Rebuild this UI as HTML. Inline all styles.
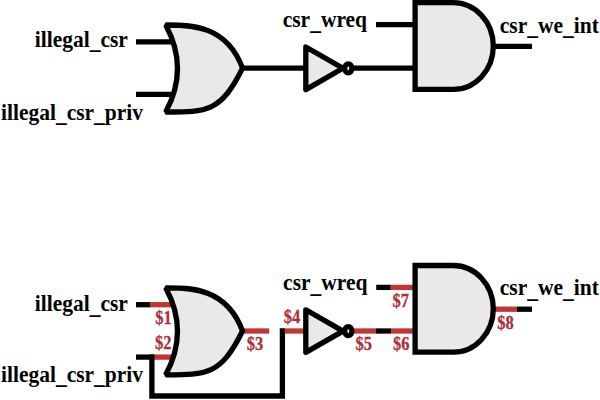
<!DOCTYPE html>
<html><head><meta charset="utf-8"><style>
html,body{margin:0;padding:0;background:#fff;}
svg{display:block;}
text{font-family:"Liberation Serif",serif;font-weight:bold;}
</style></head><body>
<svg width="600" height="400" viewBox="0 0 600 400">
<rect width="600" height="400" fill="#fff"/>
<line x1="136" y1="41.9" x2="176" y2="41.9" stroke="#000" stroke-width="5.3"/><line x1="136" y1="94.3" x2="176" y2="94.3" stroke="#000" stroke-width="5.3"/><line x1="238" y1="68.2" x2="310" y2="68.2" stroke="#000" stroke-width="5.3"/><line x1="350" y1="68.2" x2="418" y2="68.2" stroke="#000" stroke-width="5.3"/><line x1="376" y1="24.6" x2="418" y2="24.6" stroke="#000" stroke-width="5.3"/><line x1="490" y1="46.4" x2="532" y2="46.4" stroke="#000" stroke-width="5.3"/><path d="M165.7,25.0 C188.3,25.0 226.4,23.9 242.5,68.2 C221.0,112.1 206.8,112.0 165.7,112.0 Q189.29999999999998,68.5 165.7,25.0 Z" fill="#e9e9e9" stroke="#000" stroke-width="5.3" stroke-linejoin="bevel"/><path d="M305.8,47.0 L343,68.3 L305.8,89.6 Z" fill="#e9e9e9" stroke="#000" stroke-width="5.3" stroke-linejoin="round"/><ellipse cx="348.3" cy="68.3" rx="3.6" ry="4.5" fill="#fff" stroke="#000" stroke-width="5.3"/><path d="M415.1,2.7 H453.3 A40,43.35 0 0 1 453.3,89.4 H415.1 Z" fill="#e9e9e9" stroke="#000" stroke-width="5.3" stroke-linejoin="miter"/><text transform="translate(34.8,46.9) scale(1,1.1)" font-size="21.5" fill="#000">illegal<tspan dy="2.3">_</tspan><tspan dy="-2.3">csr</tspan></text><text transform="translate(1.0,119.5) scale(1,1.1)" font-size="21.5" fill="#000">illegal<tspan dy="2.3">_</tspan><tspan dy="-2.3">csr<tspan dy="2.3">_</tspan><tspan dy="-2.3">priv</tspan></tspan></text><text transform="translate(282.7,27.1) scale(1,1.1)" font-size="21.5" fill="#000">csr<tspan dy="2.3">_</tspan><tspan dy="-2.3">wreq</tspan></text><text transform="translate(499.8,32.6) scale(1,1.1)" font-size="21.5" fill="#000">csr<tspan dy="2.3">_</tspan><tspan dy="-2.3">we<tspan dy="2.3">_</tspan><tspan dy="-2.3">int</tspan></tspan></text><line x1="136" y1="304.7" x2="150.6" y2="304.7" stroke="#000" stroke-width="5.3"/><line x1="150.6" y1="304.7" x2="176" y2="304.7" stroke="#bf3632" stroke-width="5.3"/><line x1="136" y1="357.1" x2="154.3" y2="357.1" stroke="#000" stroke-width="5.3"/><line x1="154.3" y1="357.1" x2="176" y2="357.1" stroke="#bf3632" stroke-width="5.3"/><path d="M151.9,357.1 V396 H282.4 V331.0" fill="none" stroke="#000" stroke-width="5.3" stroke-linejoin="miter" stroke-linecap="square"/><line x1="238" y1="331.0" x2="269.2" y2="331.0" stroke="#bf3632" stroke-width="5.3"/><line x1="284.6" y1="331.0" x2="310" y2="331.0" stroke="#bf3632" stroke-width="5.3"/><line x1="350" y1="331.0" x2="376" y2="331.0" stroke="#bf3632" stroke-width="5.3"/><line x1="376" y1="331.0" x2="391" y2="331.0" stroke="#000" stroke-width="5.3"/><line x1="391" y1="331.0" x2="418" y2="331.0" stroke="#bf3632" stroke-width="5.3"/><line x1="376.2" y1="287.40000000000003" x2="390.8" y2="287.40000000000003" stroke="#000" stroke-width="5.3"/><line x1="390.8" y1="287.40000000000003" x2="418" y2="287.40000000000003" stroke="#bf3632" stroke-width="5.3"/><line x1="490" y1="309.2" x2="516.9" y2="309.2" stroke="#bf3632" stroke-width="5.3"/><line x1="516.9" y1="309.2" x2="532" y2="309.2" stroke="#000" stroke-width="5.3"/><path d="M165.7,287.8 C188.3,287.8 226.4,286.7 242.5,331.0 C221.0,374.90000000000003 206.8,374.8 165.7,374.8 Q189.29999999999998,331.3 165.7,287.8 Z" fill="#e9e9e9" stroke="#000" stroke-width="5.3" stroke-linejoin="bevel"/><path d="M305.8,309.8 L343,331.1 L305.8,352.4 Z" fill="#e9e9e9" stroke="#000" stroke-width="5.3" stroke-linejoin="round"/><ellipse cx="348.3" cy="331.1" rx="3.6" ry="4.5" fill="#fff" stroke="#000" stroke-width="5.3"/><path d="M415.1,265.5 H453.3 A40,43.35000000000002 0 0 1 453.3,352.20000000000005 H415.1 Z" fill="#e9e9e9" stroke="#000" stroke-width="5.3" stroke-linejoin="miter"/><text transform="translate(34.8,311.0) scale(1,1.1)" font-size="21.5" fill="#000">illegal<tspan dy="2.3">_</tspan><tspan dy="-2.3">csr</tspan></text><text transform="translate(1.0,381.8) scale(1,1.1)" font-size="21.5" fill="#000">illegal<tspan dy="2.3">_</tspan><tspan dy="-2.3">csr<tspan dy="2.3">_</tspan><tspan dy="-2.3">priv</tspan></tspan></text><text transform="translate(283.1,290.3) scale(1,1.1)" font-size="21.5" fill="#000">csr<tspan dy="2.3">_</tspan><tspan dy="-2.3">wreq</tspan></text><text transform="translate(499.8,295.1) scale(1,1.1)" font-size="21.5" fill="#000">csr<tspan dy="2.3">_</tspan><tspan dy="-2.3">we<tspan dy="2.3">_</tspan><tspan dy="-2.3">int</tspan></tspan></text><text transform="translate(155.3,324.2) scale(1,1.1)" font-size="16.5" fill="#aa2f3a" stroke="#aa2f3a" stroke-width="0.25">$1</text><text transform="translate(154.9,349.3) scale(1,1.1)" font-size="16.5" fill="#aa2f3a" stroke="#aa2f3a" stroke-width="0.25">$2</text><text transform="translate(246.70000000000002,350.4) scale(1,1.1)" font-size="16.5" fill="#aa2f3a" stroke="#aa2f3a" stroke-width="0.25">$3</text><text transform="translate(283.8,323.3) scale(1,1.1)" font-size="16.5" fill="#aa2f3a" stroke="#aa2f3a" stroke-width="0.25">$4</text><text transform="translate(355.5,350.2) scale(1,1.1)" font-size="16.5" fill="#aa2f3a" stroke="#aa2f3a" stroke-width="0.25">$5</text><text transform="translate(393.0,350.2) scale(1,1.1)" font-size="16.5" fill="#aa2f3a" stroke="#aa2f3a" stroke-width="0.25">$6</text><text transform="translate(392.5,307.4) scale(1,1.1)" font-size="16.5" fill="#aa2f3a" stroke="#aa2f3a" stroke-width="0.25">$7</text><text transform="translate(497.3,328.8) scale(1,1.1)" font-size="16.5" fill="#aa2f3a" stroke="#aa2f3a" stroke-width="0.25">$8</text>
</svg>
</body></html>
